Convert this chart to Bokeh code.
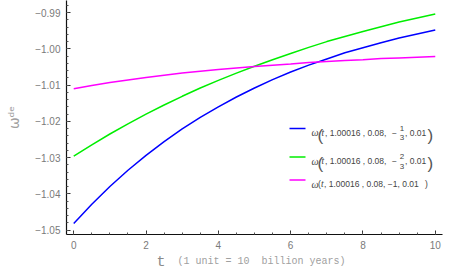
from math import pi
from bokeh.plotting import figure
from bokeh.layouts import column
from bokeh.models import (Range1d, SingleIntervalTicker, CustomJSTickFormatter,
                          Label, BoxAnnotation)
from bokeh.embed import file_html
from bokeh.resources import INLINE

# ---------------- data ----------------
t_vals = [0, 0.5, 1, 1.5, 2, 2.5, 3, 3.5, 4, 4.5, 5,
          5.5, 6, 6.5, 7, 7.5, 8, 8.5, 9, 9.5, 10]
w_third = [-1.0482, -1.0429, -1.0380, -1.0335, -1.0294, -1.0256, -1.0221,
           -1.0189, -1.0160, -1.0133, -1.0108, -1.0085, -1.0064, -1.0045,
           -1.0028, -1.0011, -0.9997, -0.9983, -0.9970, -0.9959, -0.9948]
w_two_thirds = [-1.0296, -1.0265, -1.0235, -1.0207, -1.0180, -1.0155, -1.0131,
                -1.0108, -1.0087, -1.0067, -1.0048, -1.0030, -1.0013, -0.9996,
                -0.9980, -0.9966, -0.9952, -0.9939, -0.9926, -0.9915, -0.9904]
w_one = [-1.0110, -1.0101, -1.0093, -1.0086, -1.0079, -1.0073, -1.0067,
         -1.0062, -1.0057, -1.0053, -1.0049, -1.0045, -1.0042, -1.0038,
         -1.0035, -1.0032, -1.0030, -1.0027, -1.0025, -1.0023, -1.0021]
series_colors = ["#0000ff", "#00ee00", "#ff00ff"]
y_tick_step = 0.01
x_tick_step = 2

# ---------------- main figure ----------------
W = 465
H_MAIN = 252
BL, BR, BT, BB = 66, 23, 0, 18
p = figure(width=W, height=H_MAIN, output_backend="svg", toolbar_location=None,
           x_range=Range1d(-0.2, 10.2), y_range=Range1d(-1.05124, -0.98666),
           min_border_left=BL, min_border_right=BR, min_border_top=BT,
           min_border_bottom=BB)
p.outline_line_color = None
p.xgrid.visible = False
p.ygrid.visible = False
p.background_fill_color = "white"
p.border_fill_color = "white"

for ys, c in zip([w_third, w_two_thirds, w_one], series_colors):
    p.line(t_vals, ys, line_color=c, line_width=1.5)

p.yaxis.ticker = SingleIntervalTicker(interval=y_tick_step, num_minor_ticks=5)
p.xaxis.ticker = SingleIntervalTicker(interval=x_tick_step, num_minor_ticks=4)
p.yaxis.formatter = CustomJSTickFormatter(
    code="return (tick < -1e-9 ? '\u2212' : '') + Math.abs(tick).toFixed(2);")

for ax in (p.xaxis[0], p.yaxis[0]):
    ax.axis_line_color = "#111111"
    ax.axis_line_width = 1.2
    ax.major_tick_line_color = "#333333"
    ax.minor_tick_line_color = "#555555"
    ax.major_tick_in = 4
    ax.major_tick_out = 0
    ax.minor_tick_in = 2
    ax.minor_tick_out = 0
    ax.major_label_text_color = "#7a7a7a"
    ax.major_label_text_font = "Liberation Sans"
    ax.major_label_text_font_size = "10px"
p.yaxis.major_label_standoff = 6
p.xaxis.major_label_standoff = 6

p.yaxis.axis_label = "ω\u1d48\u1d49"
p.yaxis.axis_label_text_font = "DejaVu Sans"
p.yaxis.axis_label_text_font_style = "normal"
p.yaxis.axis_label_text_font_size = "14px"
p.yaxis.axis_label_text_color = "#a0a0a0"
p.yaxis.axis_label_standoff = 10

# ---------------- helpers (page coordinates -> frame screen coords) ----
FL = BL            # frame left on page (frames are aligned in the column)
FB = H_MAIN - BB   # frame bottom on page


def lab(fig, text, sx, sy, size, color="#444444", font="Liberation Sans",
        style="normal", align="left", baseline="alphabetic", angle=0):
    fig.add_layout(Label(x=sx, y=sy, x_units="screen", y_units="screen",
                         text=text, text_font_size=f"{size}px", text_color=color,
                         text_font=font, text_font_style=style, text_align=align,
                         text_baseline=baseline, angle=angle))


def plab(text, px, py, size, **kw):
    lab(p, text, px - FL, FB - py, size, **kw)


def swatch(x0, x1, py, color):
    p.add_layout(BoxAnnotation(left=x0 - FL, right=x1 - FL,
                               bottom=FB - py - 0.8, top=FB - py + 0.8,
                               left_units="screen", right_units="screen",
                               top_units="screen", bottom_units="screen",
                               fill_color=color, fill_alpha=1, line_color=None))


# legend
fracs = [("1", "3"), ("2", "3")]
rows_y = [128, 156.5]
for (num, den), ry, c in zip(fracs, rows_y, series_colors[:2]):
    swatch(289, 305, ry, c)
    base = ry + 4
    plab("ω", 311, base, 10, font="Liberation Serif", style="italic")
    plab("(", 317, ry + 6.5, 17, color="#555555")
    plab("t", 321, base, 9.5, font="Liberation Serif", style="italic")
    plab(", 1.00016 , 0.08, ", 324.5, base, 8.5)
    plab("\u2212", 391.5, base, 8.5)
    plab(num, 401.5, ry - 0.5, 8, align="center")
    plab(den, 401.5, ry + 9, 8, align="center")
    plab(", 0.01", 404.5, base, 8.5)
    plab(")", 427, ry + 6.5, 17, color="#555555")

ry3 = 179.5
swatch(289, 305, ry3, series_colors[2])
base3 = ry3 + 4
plab("ω", 311, base3, 10, font="Liberation Serif", style="italic")
plab("(", 317.5, base3, 8.5)
plab("t", 320.5, base3, 9.5, font="Liberation Serif", style="italic")
plab(", 1.00016 , 0.08, \u22121, 0.01", 323.5, base3, 8.5)
plab(")", 424.5, base3, 8.5)

# ---------------- strip below for the x axis title ----------------
H_STRIP = 276 - H_MAIN
strip = figure(width=W, height=H_STRIP, output_backend="svg",
               toolbar_location=None, x_axis_type=None, y_axis_type=None,
               min_border=0, x_range=Range1d(0, 1), y_range=Range1d(0, 1))
strip.outline_line_color = None
strip.xgrid.visible = False
strip.ygrid.visible = False
lab(strip, "t", 156 - FL, 276 - 262, 15, color="#8a8a8a", font="Liberation Mono")
lab(strip, "(1 unit = 10\u00a0 billion years)", 177 - FL, 276 - 261, 10,
    color="#a0a0a0", font="Liberation Mono")

layout = column(p, strip, spacing=0)
open("out.html", "w").write(file_html(layout, INLINE))
